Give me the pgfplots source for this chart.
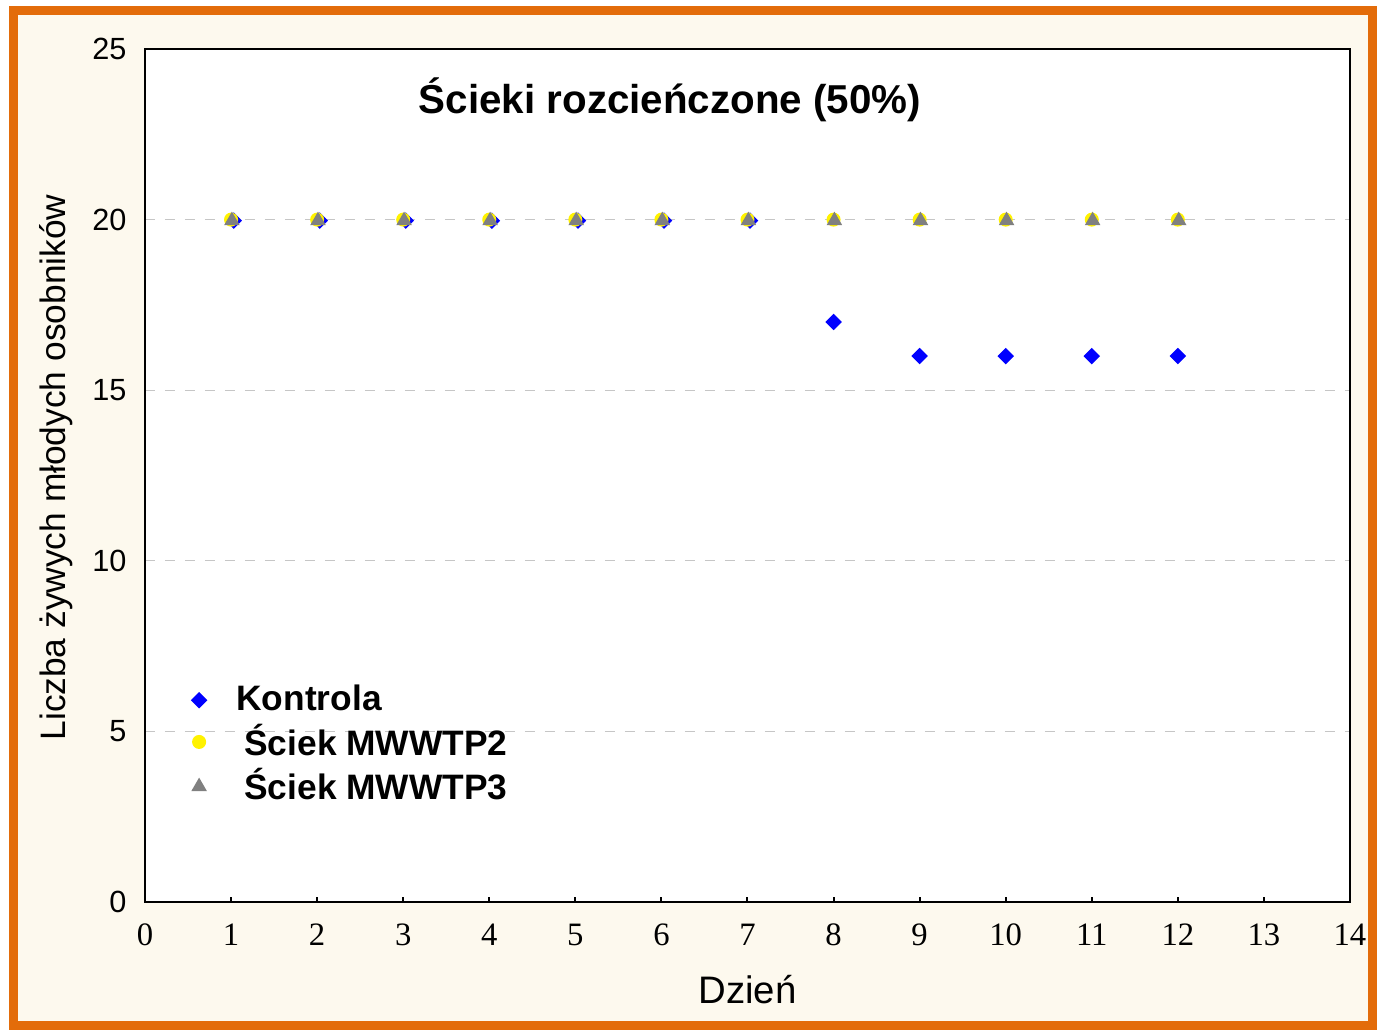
\documentclass[border=0pt]{standalone}
\usepackage{pgfplots}
\pgfplotsset{compat=1.18}
\usepackage{fontspec}
\setmainfont{Liberation Sans}
\newfontfamily\timesf{Liberation Serif}
\definecolor{frameorange}{RGB}{227,108,10}
\definecolor{cream}{RGB}{253,249,238}
\definecolor{markgray}{RGB}{128,128,128}

\begin{document}
\begin{tikzpicture}[x=0.3pt,y=0.3pt]
% frame, in pixel units relative to lower-left of plot area (145,902)
\useasboundingbox (-145,-129) rectangle (1233,902);
\fill[cream] (-136,-128) rectangle (1232,896);
\draw[frameorange,line width=2.7pt] (-131.5,-123.5) rectangle (1227.5,891.5);

\begin{axis}[
  at={(0,0)}, anchor=south west,
  scale only axis, width=361.5pt, height=255.9pt,
  xmin=0, xmax=14, ymin=0, ymax=25,
  xtick={0,1,...,14}, ytick={0,5,...,25},
  axis background/.style={fill=white},
  axis line style={black, line width=0.8pt},
  tick align=inside,
  xtick pos=bottom, ytick pos=left,
  major tick length=1.5pt,
  ytick style={draw=none},
  xtick style={black, line width=0.6pt},
  ymajorgrids,
  grid style={dashed, gray!45, line width=0.3pt},
  /pgf/number format/assume math mode=true,
  xticklabel style={font=\timesf\fontsize{9.8}{11}\selectfont, yshift=-3pt},
  yticklabel style={font=\fontsize{9.2}{11}\selectfont, xshift=-2pt},
  xlabel={Dzień},
  ylabel={Liczba żywych młodych osobników},
  xlabel style={font=\fontsize{11.5}{13}\selectfont, yshift=-2pt},
  ylabel style={font=\fontsize{10.6}{12}\selectfont, yshift=-1pt, xshift=2.4pt},
  legend style={draw=none, fill=none, at={(0.03,0.271)}, anchor=north west,
    font=\bfseries\fontsize{10.6}{12}\selectfont, row sep=-1.5pt,
    legend cell align=left},
  clip=false,
]
\addplot[only marks, mark=square*, mark options={rotate=45}, mark size=1.55pt, color=blue]
coordinates {
  (1.03,19.97) (2.03,19.97) (3.03,19.97) (4.03,19.97) (5.03,19.97) (6.03,19.97) (7.03,19.97)
  (8,17) (9,16) (10,16) (11,16) (12,16)
};
\addlegendentry{\hspace{7pt}Kontrola}
\addplot[only marks, mark=*, mark size=1.9pt, color=yellow]
coordinates {
  (1,20) (2,20) (3,20) (4,20) (5,20) (6,20) (7,20) (8,20) (9,20) (10,20) (11,20) (12,20)
};
\addlegendentry{\hspace{9.4pt}Ściek MWWTP2}
\addplot[only marks, mark=triangle*, mark size=2.3pt, color=markgray]
coordinates {
  (1.01,19.97) (2.01,19.97) (3.01,19.97) (4.01,19.97) (5.01,19.97) (6.01,19.97) (7.01,19.97)
  (8.01,19.97) (9.01,19.97) (10.01,19.97) (11.01,19.97) (12.01,19.97)
};
\addlegendentry{\hspace{9.4pt}Ściek MWWTP3}
\node[font=\bfseries\fontsize{12.1}{14}\selectfont] at (axis cs:6.1,23.5) {Ścieki rozcieńczone (50\%)};
\end{axis}
\end{tikzpicture}
\end{document}
